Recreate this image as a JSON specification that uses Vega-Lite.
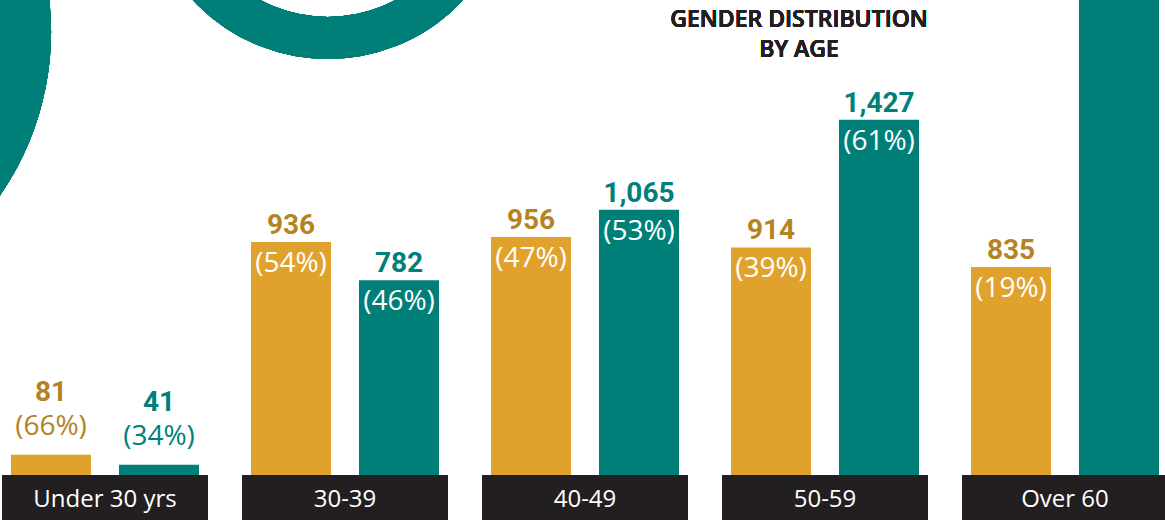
{
  "$schema": "https://vega.github.io/schema/vega-lite/v6.json",
  "width": 1165,
  "height": 520,
  "autosize": {"type": "none"},
  "padding": 0,
  "background": "#ffffff",
  "config": {"view": {"stroke": null}},
  "data": {
    "values": [
      {"age": "Under 30 yrs", "gender": "Women", "value": 81, "pctLabel": "(66%)"},
      {"age": "Under 30 yrs", "gender": "Men", "value": 41, "pctLabel": "(34%)"},
      {"age": "30-39", "gender": "Women", "value": 936, "pctLabel": "(54%)"},
      {"age": "30-39", "gender": "Men", "value": 782, "pctLabel": "(46%)"},
      {"age": "40-49", "gender": "Women", "value": 956, "pctLabel": "(47%)"},
      {"age": "40-49", "gender": "Men", "value": 1065, "pctLabel": "(53%)"},
      {"age": "50-59", "gender": "Women", "value": 914, "pctLabel": "(39%)"},
      {"age": "50-59", "gender": "Men", "value": 1427, "pctLabel": "(61%)"},
      {"age": "Over 60", "gender": "Women", "value": 835, "pctLabel": "(19%)"},
      {"age": "Over 60", "gender": "Men", "value": 3560, "pctLabel": "(81%)"}
    ]
  },
  "encoding": {
    "x": {"field": "age", "type": "nominal", "sort": ["Under 30 yrs", "30-39", "40-49", "50-59", "Over 60"], "scale": {"domain": ["Under 30 yrs", "30-39", "40-49", "50-59", "Over 60"], "range": [-15, 1185], "paddingInner": 0.1417, "paddingOuter": 0.0708}, "axis": null},
    "y": {"field": "value", "type": "quantitative", "scale": {"domain": [-181, 1908]}, "axis": null}
  },
  "layer": [
    {
      "mark": {"type": "point", "shape": "circle", "filled": false, "stroke": "#007f79", "strokeWidth": 42, "opacity": 1, "size": 106276},
      "encoding": {
        "x": {"datum": "30-39", "type": "nominal", "bandPosition": 0.417},
        "y": {"datum": 2410, "type": "quantitative"}
      }
    },
    {
      "mark": {"type": "point", "shape": "circle", "filled": true, "fill": "#007f79", "strokeWidth": 0, "opacity": 1, "size": 329476},
      "encoding": {
        "x": {"datum": "Under 30 yrs", "type": "nominal", "bandPosition": -1.155},
        "y": {"datum": 1780, "type": "quantitative"}
      }
    },
    {
      "mark": {"type": "text", "text": ["GENDER DISTRIBUTION", "BY AGE"], "font": "Open Sans", "fontSize": 23, "fontWeight": 600, "color": "#231f20", "align": "center", "baseline": "alphabetic", "lineHeight": 30},
      "encoding": {
        "x": {"datum": "50-59", "type": "nominal", "bandPosition": 0.374},
        "y": {"datum": 1800, "type": "quantitative"}
      }
    },
    {
      "mark": {"type": "bar", "clip": true},
      "encoding": {
        "xOffset": {"field": "gender", "type": "nominal", "sort": ["Women", "Men"], "scale": {"paddingInner": 0.259, "paddingOuter": 0.0833}},
        "color": {"field": "gender", "type": "nominal", "scale": {"domain": ["Women", "Men"], "range": ["#e1a22d", "#007f79"]}, "legend": null}
      }
    },
    {
      "transform": [{"filter": "datum.gender === 'Women'"}],
      "mark": {"type": "bar", "color": "#231f20"},
      "encoding": {
        "y": {"datum": 0, "type": "quantitative"},
        "y2": {"datum": -181}
      }
    },
    {
      "transform": [{"filter": "datum.gender === 'Women'"}],
      "mark": {"type": "text", "font": "Open Sans", "fontSize": 24, "color": "#ffffff", "align": "center", "baseline": "alphabetic"},
      "encoding": {
        "y": {"datum": -128, "type": "quantitative"},
        "text": {"field": "age"}
      }
    },
    {
      "transform": [{"filter": "datum.value >= 200 && datum.value < 1900"}],
      "mark": {"type": "text", "font": "Roboto", "fontSize": 28, "fontWeight": "bold", "align": "center", "baseline": "alphabetic", "dy": -8},
      "encoding": {
        "xOffset": {"field": "gender", "type": "nominal", "sort": ["Women", "Men"]},
        "text": {"field": "value", "type": "quantitative", "format": ","},
        "color": {"condition": {"test": "datum.gender === 'Women'", "value": "#b5831f"}, "value": "#00807a"}
      }
    },
    {
      "transform": [{"filter": "datum.value < 200"}],
      "mark": {"type": "text", "font": "Roboto", "fontSize": 28, "fontWeight": "bold", "align": "center", "baseline": "alphabetic", "dy": -54},
      "encoding": {
        "xOffset": {"field": "gender", "type": "nominal", "sort": ["Women", "Men"]},
        "text": {"field": "value", "type": "quantitative", "format": ","},
        "color": {"condition": {"test": "datum.gender === 'Women'", "value": "#b5831f"}, "value": "#00807a"}
      }
    },
    {
      "transform": [{"filter": "datum.value >= 200 && datum.value < 1900"}],
      "mark": {"type": "text", "font": "Open Sans", "fontSize": 28, "color": "#ffffff", "align": "center", "baseline": "alphabetic", "dy": 30},
      "encoding": {
        "xOffset": {"field": "gender", "type": "nominal", "sort": ["Women", "Men"]},
        "text": {"field": "pctLabel"}
      }
    },
    {
      "transform": [{"filter": "datum.value < 200"}],
      "mark": {"type": "text", "font": "Open Sans", "fontSize": 28, "align": "center", "baseline": "alphabetic", "dy": -20},
      "encoding": {
        "xOffset": {"field": "gender", "type": "nominal", "sort": ["Women", "Men"]},
        "text": {"field": "pctLabel"},
        "color": {"condition": {"test": "datum.gender === 'Women'", "value": "#b5831f"}, "value": "#00807a"}
      }
    }
  ]
}
